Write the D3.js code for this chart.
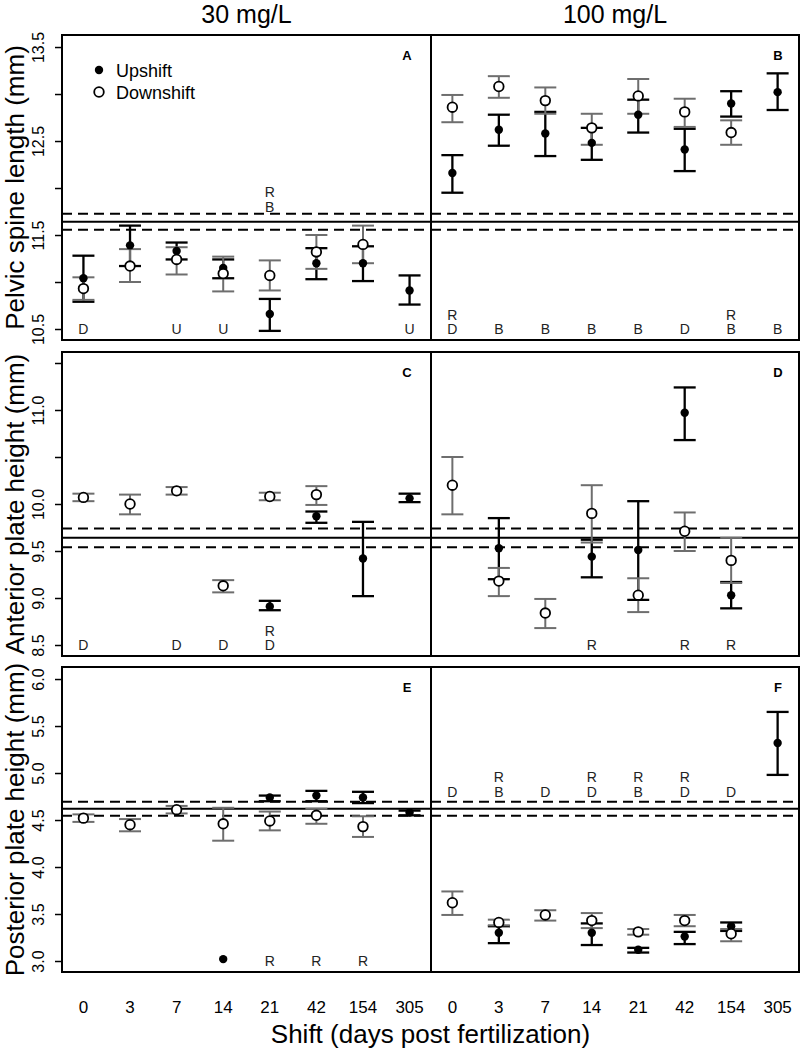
<!DOCTYPE html>
<html>
<head>
<meta charset="utf-8">
<script src="https://cdnjs.cloudflare.com/ajax/libs/d3/7.8.5/d3.min.js"></script>
<style>
  body { margin: 0; background: #fff; }
  svg { display: block; font-family: "Liberation Sans", Arial, sans-serif; }
</style>
</head>
<body>
<div id="chart"></div>
<script>
// categories
var days = ['0', '3', '7', '14', '21', '42', '154', '305'];
var columnTitles = ['30 mg/L', '100 mg/L'];
var rowTitles = ['Pelvic spine length (mm)', 'Anterior plate height (mm)', 'Posterior plate height (mm)'];
var panelLabels = ['A', 'B', 'C', 'D', 'E', 'F'];
var seriesNames = ['Upshift', 'Downshift'];

// [mean, lower, upper] per shift day, null = no group
var spine30Up = [[11.04, 10.79, 11.28], [11.39, 11.17, 11.60], [11.33, 11.24, 11.42], [11.15, 11.04, 11.24],
  [10.66, 10.48, 10.82], [11.20, 11.03, 11.36], [11.20, 11.01, 11.38], [10.91, 10.76, 11.07]];
var spine30Down = [[10.93, 10.81, 11.05], [11.17, 11.00, 11.35], [11.24, 11.08, 11.37], [11.09, 10.90, 11.27],
  [11.07, 10.91, 11.23], [11.32, 11.14, 11.50], [11.40, 11.20, 11.60], null];
var spine100Up = [[12.16, 11.95, 12.35], [12.62, 12.45, 12.78], [12.58, 12.34, 12.81], [12.48, 12.30, 12.64],
  [12.78, 12.59, 12.94], [12.41, 12.18, 12.63], [12.90, 12.76, 13.03], [13.02, 12.83, 13.22]];
var spine100Down = [[12.86, 12.70, 12.99], [13.08, 12.96, 13.19], [12.93, 12.79, 13.07], [12.64, 12.46, 12.79],
  [12.98, 12.79, 13.16], [12.81, 12.65, 12.95], [12.59, 12.46, 12.72], null];

var ant30Up = [null, null, null, null, [8.91, 8.87, 8.97], [9.87, 9.80, 9.92], [9.42, 9.02, 9.81], [10.06, 10.02, 10.11]];
var ant30Down = [[10.07, 10.03, 10.11], [10.00, 9.89, 10.10], [10.14, 10.10, 10.18], [9.13, 9.06, 9.19],
  [10.08, 10.04, 10.12], [10.10, 9.99, 10.19], null, null];
var ant100Up = [null, [9.53, 9.20, 9.85], null, [9.44, 9.22, 9.62], [9.51, 8.98, 10.03], [10.97, 10.68, 11.24],
  [9.03, 8.89, 9.17], null];
var ant100Down = [[10.20, 9.89, 10.50], [9.18, 9.02, 9.32], [8.84, 8.68, 8.99], [9.90, 9.59, 10.20],
  [9.03, 8.85, 9.21], [9.71, 9.50, 9.91], [9.40, 9.16, 9.64], null];

var post30Up = [null, null, null, [3.02, null, null], [4.74, 4.70, 4.76], [4.76, 4.70, 4.81], [4.74, 4.68, 4.80], [4.58, 4.55, 4.60]];
var post30Down = [[4.52, 4.48, 4.56], [4.45, 4.38, 4.51], [4.61, 4.57, 4.65], [4.46, 4.28, 4.63],
  [4.49, 4.39, 4.59], [4.55, 4.46, 4.62], [4.43, 4.32, 4.54], null];
var post100Up = [null, [3.30, 3.19, 3.37], null, [3.30, 3.17, 3.40], [3.12, 3.09, 3.14], [3.26, 3.18, 3.31],
  [3.37, 3.32, 3.41], [5.32, 4.98, 5.65]];
var post100Down = [[3.62, 3.49, 3.74], [3.41, 3.38, 3.44], [3.49, 3.43, 3.54], [3.43, 3.35, 3.51],
  [3.31, 3.28, 3.34], [3.43, 3.37, 3.49], [3.29, 3.21, 3.34], null];

// control mean and limits [mean, lower, upper]
var spineRef = [11.64, 11.555, 11.725];
var antRef = [9.64, 9.54, 9.74];
var postRef = [4.62, 4.545, 4.695];

// significance letters: day index, lines (top to bottom), value of the lowest line
var spine30Letters = [[0, ['D'], 10.5], [2, ['U'], 10.5], [3, ['U'], 10.5], [4, ['R', 'B'], 11.80], [7, ['U'], 10.5]];
var spine100Letters = [[0, ['R', 'D'], 10.5], [1, ['B'], 10.5], [2, ['B'], 10.5], [3, ['B'], 10.5], [4, ['B'], 10.5],
  [5, ['D'], 10.5], [6, ['R', 'B'], 10.5], [7, ['B'], 10.5]];
var ant30Letters = [[0, ['D'], 8.5], [2, ['D'], 8.5], [3, ['D'], 8.5], [4, ['R', 'D'], 8.5]];
var ant100Letters = [[3, ['R'], 8.5], [5, ['R'], 8.5], [6, ['R'], 8.5]];
var post30Letters = [[4, ['R'], 3.0], [5, ['R'], 3.0], [6, ['R'], 3.0]];
var post100Letters = [[0, ['D'], 4.8], [1, ['R', 'B'], 4.8], [2, ['D'], 4.8], [3, ['R', 'D'], 4.8], [4, ['R', 'B'], 4.8],
  [5, ['R', 'D'], 4.8], [6, ['D'], 4.8]];

// y ticks per row
var spineTicks = [10.5, 11, 11.5, 12, 12.5, 13, 13.5];
var spineTickLabels = ['10.5', '', '11.5', '', '12.5', '', '13.5'];
var antTicks = [8.5, 9, 9.5, 10, 10.5, 11, 11.5];
var antTickLabels = ['8.5', '9.0', '9.5', '10.0', '', '11.0', ''];
var postTicks = [3, 3.5, 4, 4.5, 5, 5.5, 6];
var postTickLabels = ['3.0', '3.5', '4.0', '4.5', '5.0', '5.5', '6.0'];

var width = 800, height = 1050;
var grey = '#6e6e6e';
var colX = [[62, 431], [431, 799]];
var rowY = [[35, 340], [352, 656], [667, 972]];

var rows = [
  { domain: [10.383, 13.628], ticks: spineTicks, labels: spineTickLabels, ref: spineRef,
    panels: [[spine30Up, spine30Down, spine30Letters], [spine100Up, spine100Down, spine100Letters]] },
  { domain: [8.383, 11.617], ticks: antTicks, labels: antTickLabels, ref: antRef,
    panels: [[ant30Up, ant30Down, ant30Letters], [ant100Up, ant100Down, ant100Letters]] },
  { domain: [2.883, 6.128], ticks: postTicks, labels: postTickLabels, ref: postRef,
    panels: [[post30Up, post30Down, post30Letters], [post100Up, post100Down, post100Letters]] }
];

var svg = d3.select('#chart')
  .append('svg')
  .attr('width', width)
  .attr('height', height);

// x scales, one per column
var xScales = colX.map(function (c) {
  return d3.scalePoint().domain(days).range(c).padding(0.46);
});

rows.forEach(function (row, r) {
  var yScale = d3.scaleLinear().domain(row.domain).range([rowY[r][1], rowY[r][0]]);

  row.panels.forEach(function (p, c) {
    var xScale = xScales[c];
    var g = svg.append('g').attr('class', 'panel');

    //reference lines
    row.ref.forEach(function (v, k) {
      g.append('line')
        .attr('x1', colX[c][0]).attr('x2', colX[c][1])
        .attr('y1', yScale(v)).attr('y2', yScale(v))
        .attr('stroke', '#000')
        .attr('stroke-width', 2)
        .attr('stroke-dasharray', k === 0 ? null : '10,6');
    });

    //error bars
    [[p[0], '#000', 2.3], [p[1], grey, 2]].forEach(function (s) {
      var bars = s[0].map(function (d, i) { return { d: d, i: i }; })
        .filter(function (o) { return o.d && o.d[1] != null; });
      var eg = g.append('g').attr('stroke', s[1]).attr('stroke-width', s[2]);
      eg.selectAll('line.v').data(bars).enter().append('line')
        .attr('x1', function (o) { return xScale(days[o.i]); })
        .attr('x2', function (o) { return xScale(days[o.i]); })
        .attr('y1', function (o) { return yScale(o.d[1]); })
        .attr('y2', function (o) { return yScale(o.d[2]); });
      [1, 2].forEach(function (k) {
        eg.selectAll('line.c' + k).data(bars).enter().append('line')
          .attr('x1', function (o) { return xScale(days[o.i]) - 11; })
          .attr('x2', function (o) { return xScale(days[o.i]) + 11; })
          .attr('y1', function (o) { return yScale(o.d[k]); })
          .attr('y2', function (o) { return yScale(o.d[k]); });
      });
    });

    //points
    var upPts = p[0].map(function (d, i) { return { d: d, i: i }; }).filter(function (o) { return o.d; });
    var downPts = p[1].map(function (d, i) { return { d: d, i: i }; }).filter(function (o) { return o.d; });
    g.append('g').selectAll('circle').data(upPts).enter().append('circle')
      .attr('cx', function (o) { return xScale(days[o.i]); })
      .attr('cy', function (o) { return yScale(o.d[0]); })
      .attr('r', 4.2)
      .attr('fill', '#000');
    g.append('g').selectAll('circle').data(downPts).enter().append('circle')
      .attr('cx', function (o) { return xScale(days[o.i]); })
      .attr('cy', function (o) { return yScale(o.d[0]); })
      .attr('r', 4.8)
      .attr('fill', '#fff')
      .attr('stroke', '#000')
      .attr('stroke-width', 1.8);

    //letters
    p[2].forEach(function (l) {
      var n = l[1].length;
      l[1].forEach(function (t, k) {
        g.append('text')
          .attr('x', xScale(days[l[0]]))
          .attr('y', yScale(l[2]) - (n - 1 - k) * 14.5)
          .attr('dy', '0.36em')
          .attr('text-anchor', 'middle')
          .attr('font-size', 14)
          .attr('fill', '#222')
          .text(t);
      });
    });

    //panel label
    g.append('text')
      .attr('x', colX[c][1] - (c === 0 ? 24 : 21))
      .attr('y', rowY[r][0] + 25)
      .attr('text-anchor', 'middle')
      .attr('font-family', '"Liberation Sans Narrow", "Liberation Sans", sans-serif')
      .attr('font-weight', 'bold')
      .attr('font-size', 13)
      .text(panelLabels[r * 2 + c]);

    //border
    g.append('rect')
      .attr('x', colX[c][0]).attr('y', rowY[r][0])
      .attr('width', colX[c][1] - colX[c][0])
      .attr('height', rowY[r][1] - rowY[r][0])
      .attr('fill', 'none')
      .attr('stroke', '#000')
      .attr('stroke-width', 2);
  });

  //y axis
  var axisY = d3.axisLeft(yScale)
    .tickValues(row.ticks)
    .tickSize(7)
    .tickSizeOuter(0)
    .tickFormat(function (d, i) { return row.labels[i]; });
  var ay = svg.append('g')
    .attr('class', 'axisY')
    .attr('transform', 'translate(' + colX[0][0] + ',0)')
    .call(axisY);
  ay.select('.domain').remove();
  ay.selectAll('line').attr('stroke', '#000').attr('stroke-width', 1.5);
  ay.selectAll('text')
    .attr('x', 0)
    .attr('dy', 0)
    .attr('transform', 'translate(-18,0) rotate(-90)')
    .attr('text-anchor', 'middle')
    .attr('font-size', 16)
    .attr('font-family', '"Liberation Sans", Arial, sans-serif')
    .attr('fill', '#000');

  //row title
  svg.append('text')
    .attr('transform', 'translate(24,' + (rowY[r][0] + rowY[r][1]) / 2 + ') rotate(-90)')
    .attr('text-anchor', 'middle')
    .attr('font-size', 26)
    .text(rowTitles[r]);
});

//column titles and x tick labels
columnTitles.forEach(function (t, c) {
  svg.append('text')
    .attr('x', (colX[c][0] + colX[c][1]) / 2)
    .attr('y', 23)
    .attr('text-anchor', 'middle')
    .attr('font-size', 25)
    .text(t);

  svg.append('g').selectAll('text').data(days).enter().append('text')
    .attr('x', function (d) { return xScales[c](d); })
    .attr('y', 1013)
    .attr('text-anchor', 'middle')
    .attr('font-size', 17)
    .text(function (d) { return d; });
});

svg.append('text')
  .attr('x', (colX[0][0] + colX[1][1]) / 2)
  .attr('y', 1043)
  .attr('text-anchor', 'middle')
  .attr('font-size', 26)
  .text('Shift (days post fertilization)');

//legend
var legend = svg.append('g').attr('class', 'legend');
seriesNames.forEach(function (name, k) {
  var ly = 70 + k * 22;
  legend.append('circle')
    .attr('cx', 99).attr('cy', ly)
    .attr('r', k === 0 ? 4.2 : 4.8)
    .attr('fill', k === 0 ? '#000' : '#fff')
    .attr('stroke', k === 0 ? null : '#000')
    .attr('stroke-width', 1.8);
  legend.append('text')
    .attr('x', 116).attr('y', ly + 7)
    .attr('font-size', 18)
    .text(name);
});
</script>
</body>
</html>
